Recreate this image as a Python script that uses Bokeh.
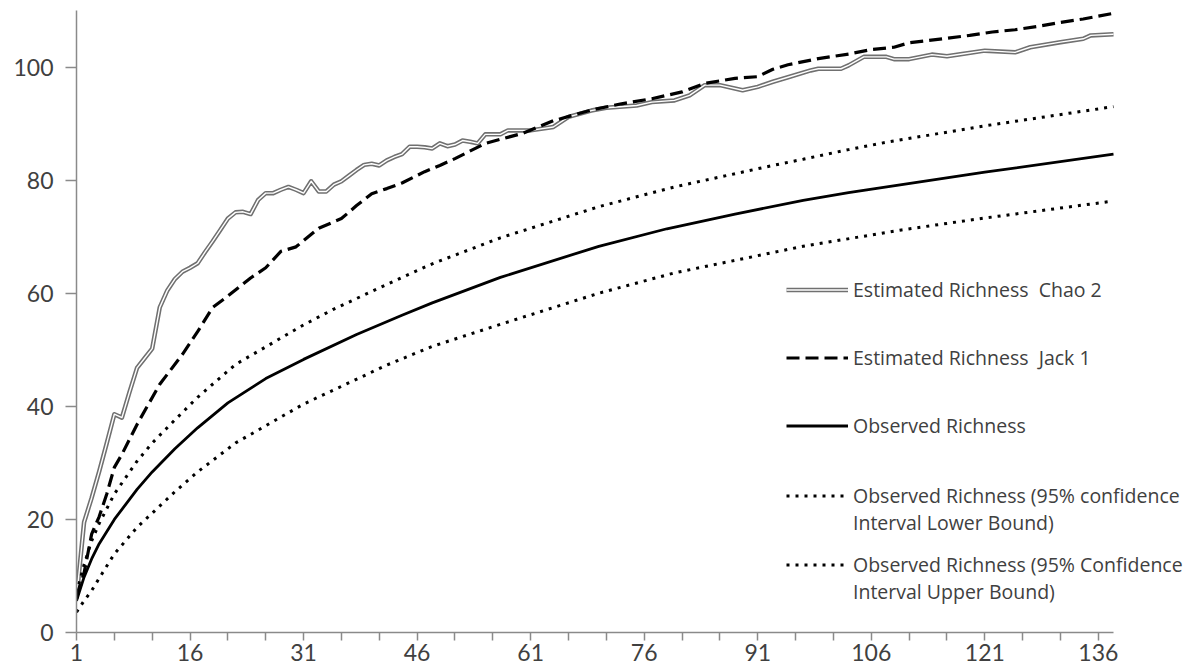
from bokeh.plotting import figure
from bokeh.models import Range1d, FixedTicker, Legend, LegendItem
from bokeh.embed import file_html
from bokeh.resources import INLINE

# ---------------- data ----------------
x_tick_labels = [1, 16, 31, 46, 61, 76, 91, 106, 121, 136]
x_minor_ticks = [6, 11, 21, 26, 36, 41, 51, 56, 66, 71, 81, 86, 96, 101, 111, 116, 126, 131]
y_tick_labels = [0, 20, 40, 60, 80, 100]
n_samples = 138

chao_x = [1, 2, 3, 4, 5, 6, 7, 8, 9, 10, 11, 12, 13, 14, 15, 16, 17, 18, 19, 20,
          21, 22, 23, 24, 25, 26, 27, 28, 29, 30, 31, 32, 33, 34, 35, 36, 37, 38, 39, 40,
          41, 42, 43, 44, 45, 46, 47, 48, 49, 50, 51, 52, 53, 54, 55, 57, 58, 61, 64, 66,
          69, 71, 75, 77, 80, 82, 84, 86, 89, 91, 93, 95, 98, 99, 102, 103, 105, 108, 109, 111,
          114, 116, 118, 121, 125, 127, 131, 134, 135, 138]
chao_y = [6.0, 19.5, 23.8, 28.5, 33.5, 38.6, 38.0, 42.5, 46.8, 48.5, 50.2, 57.5, 60.5, 62.5, 63.8, 64.5, 65.3, 67.3, 69.2, 71.2,
          73.2, 74.3, 74.4, 74.0, 76.5, 77.7, 77.7, 78.3, 78.8, 78.3, 77.7, 79.8, 78.0, 78.0, 79.2, 79.8, 80.8, 81.8, 82.7, 82.9,
          82.6, 83.5, 84.1, 84.6, 85.9, 85.9, 85.8, 85.6, 86.5, 86.0, 86.3, 87.0, 86.8, 86.5, 88.1, 88.1, 88.8, 88.8, 89.4, 91.2,
          92.3, 92.8, 93.2, 93.8, 94.1, 95.0, 96.8, 96.8, 95.9, 96.5, 97.4, 98.2, 99.4, 99.7, 99.7, 100.3, 101.8, 101.8, 101.4, 101.4,
          102.2, 101.9, 102.3, 102.9, 102.6, 103.5, 104.4, 105.0, 105.6, 105.8]

jack_x = [1, 2, 3, 4, 5, 6, 7, 9, 12, 15, 17, 19, 21, 24, 26, 28, 30, 33, 36, 38,
          40, 42, 44, 47, 49, 51, 55, 60, 64, 69, 73, 77, 81, 84, 88, 91, 93, 95, 99, 103,
          106, 109, 111, 116, 119, 122, 125, 128, 131, 134, 136, 138]
jack_y = [6.5, 10.5, 17.4, 20.5, 24.5, 29.2, 31.5, 36.8, 43.9, 49.2, 53.2, 57.5, 59.5, 62.7, 64.5, 67.4, 68.2, 71.5, 73.2, 75.5,
          77.6, 78.5, 79.5, 81.5, 82.6, 83.8, 86.5, 88.3, 90.5, 92.4, 93.5, 94.4, 95.6, 97.1, 98.0, 98.3, 99.6, 100.4, 101.5, 102.3,
          103.1, 103.5, 104.3, 105.1, 105.6, 106.2, 106.6, 107.2, 107.9, 108.5, 109.0, 109.5]

obs_x = [1, 2, 3, 4, 6, 9, 11, 14, 17, 21, 26, 31, 38, 44, 48, 57, 70, 79, 88, 97, 103, 121, 138]
obs_y = [5.6, 9.8, 13.0, 15.7, 20.0, 25.3, 28.4, 32.5, 36.2, 40.6, 44.9, 48.3, 52.7, 56.1, 58.3, 62.8, 68.3, 71.4, 74.0, 76.4, 77.8, 81.4, 84.6]

up_x = [1, 2, 3, 4, 6, 9, 11, 14, 17, 22, 31, 35, 44, 48, 57, 70, 80, 93, 97, 103, 108, 121, 138]
up_y = [7.0, 12.0, 16.2, 19.3, 24.5, 30.3, 33.5, 37.6, 41.6, 47.4, 54.4, 57.2, 62.8, 65.2, 69.8, 75.3, 78.8, 82.6, 83.7, 85.4, 86.7, 89.6, 93.0]

low_x = [1, 2, 3, 4, 6, 9, 11, 14, 17, 22, 31, 42, 48, 57, 70, 80, 97, 110, 121, 138]
low_y = [3.6, 5.6, 7.4, 9.6, 13.9, 18.6, 21.1, 24.9, 28.4, 33.5, 40.4, 47.3, 50.6, 54.5, 60.0, 63.6, 68.3, 71.2, 73.3, 76.3]

labels = ["Estimated Richness  Chao 2",
          "Estimated Richness  Jack 1",
          "Observed Richness",
          "Observed Richness (95% confidence", "Interval Lower Bound)",
          "Observed Richness (95% Confidence", "Interval Upper Bound)"]

# ---------------- figure ----------------
TICK_FONT = "Lato"
LEG_FONT = "Open Sans"
TXT = "#404040"
AXC = "#8a8a8a"

# the frame runs to the right edge so the legend text is not clipped;
# the x axis line itself is bounded to the sample range
PX_PER_SAMPLE = 1037 / 137
FRAME_W = 1200 - 76
x_end = 1 + FRAME_W / PX_PER_SAMPLE

p = figure(width=1200, height=671, output_backend="svg", toolbar_location=None,
           x_range=Range1d(1, x_end), y_range=Range1d(0, 110),
           min_border_left=76, min_border_right=0, min_border_top=10, min_border_bottom=39)
p.outline_line_color = None
p.grid.visible = False
p.background_fill_color = "white"
p.border_fill_color = "white"

r_chao_o = p.line(chao_x, chao_y, line_color="#707070", line_width=4.5, line_join="round")
r_chao_i = p.line(chao_x, chao_y, line_color="#ffffff", line_width=1.4, line_join="round")
r_jack = p.line(jack_x, jack_y, line_color="black", line_width=3.2, line_dash="13 6")
r_obs = p.line(obs_x, obs_y, line_color="black", line_width=2.8, line_join="round")
r_low = p.line(low_x, low_y, line_color="black", line_width=3, line_dash="3 6")
r_up = p.line(up_x, up_y, line_color="black", line_width=3, line_dash="3 6")
r_blank = p.line([], [], line_alpha=0)

# axes
xa = p.xaxis[0]
xa.ticker = FixedTicker(ticks=x_tick_labels, minor_ticks=x_minor_ticks)
xa.bounds = (1, n_samples)
ya = p.yaxis[0]
ya.ticker = FixedTicker(ticks=y_tick_labels)
for ax in (xa, ya):
    ax.axis_line_color = AXC
    ax.axis_line_width = 1.5
    ax.major_tick_line_color = AXC
    ax.major_tick_line_width = 1.5
    ax.minor_tick_line_color = AXC
    ax.minor_tick_line_width = 1.5
    ax.major_tick_in = 0
    ax.minor_tick_in = 0
    ax.major_label_text_font = TICK_FONT
    ax.major_label_text_font_size = "23px"
    ax.major_label_text_color = TXT
xa.major_tick_out = 8
xa.minor_tick_out = 8
xa.major_label_standoff = 3
ya.major_tick_out = 11
ya.minor_tick_line_color = None
ya.major_label_standoff = 12


def make_legend(items, loc, spacing):
    lg = Legend(items=items, location=loc, spacing=spacing,
                glyph_width=62, glyph_height=27, label_height=27, label_standoff=5,
                padding=0, margin=0, border_line_alpha=0, background_fill_alpha=0,
                label_text_font=LEG_FONT, label_text_font_size="19.5px", label_text_color=TXT)
    p.add_layout(lg)
    return lg


make_legend([LegendItem(label=labels[0], renderers=[r_chao_o, r_chao_i]),
             LegendItem(label=labels[1], renderers=[r_jack]),
             LegendItem(label=labels[2], renderers=[r_obs])], (710, 193), 41)
make_legend([LegendItem(label=labels[3], renderers=[r_low]),
             LegendItem(label=labels[4], renderers=[r_blank])], (710, 96), 0)
make_legend([LegendItem(label=labels[5], renderers=[r_up]),
             LegendItem(label=labels[6], renderers=[r_blank])], (710, 27), 0)

open("out.html", "w").write(file_html(p, INLINE))
